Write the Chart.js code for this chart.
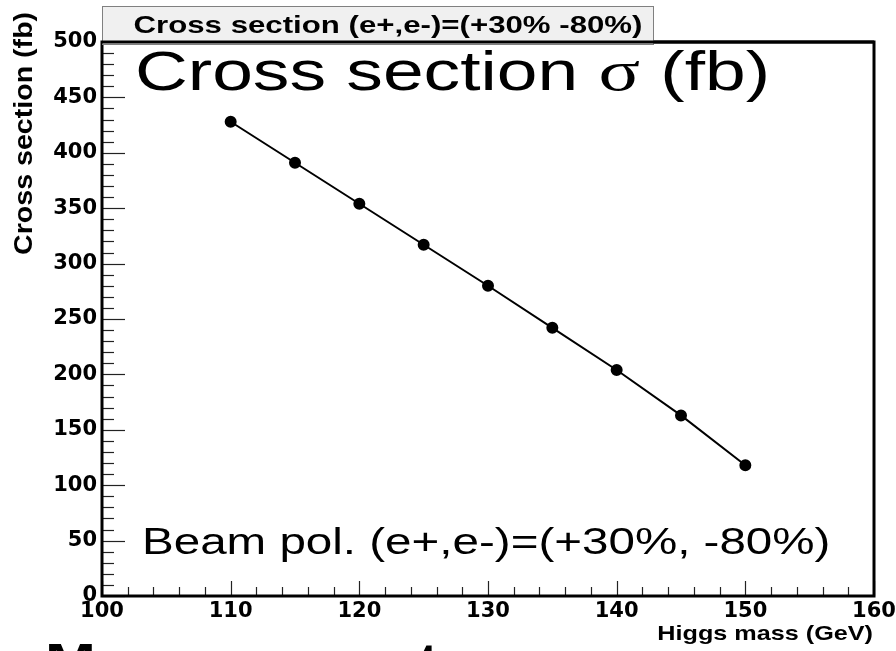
<!DOCTYPE html>
<html>
<head>
<meta charset="utf-8">
<script src="https://cdn.jsdelivr.net/npm/chart.js@4"></script>
<style>
  body { margin: 0; background: #fff; }
  #wrap { width: 896px; height: 651px; }
</style>
</head>
<body>
<div id="wrap"><canvas id="xsec" width="896" height="651"></canvas></div>
<script>
// Higgs mass (GeV) and cross section (fb)
const higgsMass = [110, 115, 120, 125, 130, 135, 140, 145, 150];
const crossSection = [428, 391, 354, 317, 280, 242, 204, 163, 118];
const xTickValues = [100, 110, 120, 130, 140, 150, 160];
const yTickValues = [0, 50, 100, 150, 200, 250, 300, 350, 400, 450, 500];

const boxTitle = "Cross section (e+,e-)=(+30% -80%)";
const yTitle = "Cross section (fb)";
const xTitle = "Higgs mass (GeV)";
const bigLabel = ["Cross section ", "\u03c3", " (fb)"];
const polLabel = "Beam pol. (e+,e-)=(+30%, -80%)";
const footText = "Measurement";

const SANS = "'Liberation Sans', Arial, Helvetica, sans-serif";

// draws text stretched horizontally like the original picture
function wideText(ctx, txt, x, y, font, sx, align) {
  ctx.save();
  ctx.font = font;
  let w = ctx.measureText(txt).width * sx;
  let left = x;
  if (align === "center") left = x - w / 2;
  if (align === "right") left = x - w;
  ctx.translate(left, y);
  ctx.scale(sx, 1);
  ctx.textAlign = "left";
  ctx.textBaseline = "alphabetic";
  ctx.fillText(txt, 0, 0);
  ctx.restore();
  return w;
}

const rootFrame = {
  id: "rootFrame",
  afterDatasetsDraw(chart) {
    const ctx = chart.ctx;
    const a = chart.chartArea;
    const xs = chart.scales.x, ys = chart.scales.y;
    ctx.save();
    ctx.strokeStyle = "#222";
    ctx.lineWidth = 1.2;
    // inward ticks, ROOT style
    for (let v = 0; v <= 500; v += 10) {
      let py = Math.round(ys.getPixelForValue(v)) + 0.5;
      let len = v % 50 === 0 ? 23 : 12;
      ctx.beginPath(); ctx.moveTo(a.left, py); ctx.lineTo(a.left + len, py); ctx.stroke();
    }
    for (let v = 100; v <= 160; v += 2) {
      let px = Math.round(xs.getPixelForValue(v)) + 0.5;
      let len = v % 10 === 0 ? 15 : 9;
      ctx.beginPath(); ctx.moveTo(px, a.bottom); ctx.lineTo(px, a.bottom - len); ctx.stroke();
    }
    // frame
    ctx.strokeStyle = "#000";
    ctx.lineWidth = 3;
    ctx.strokeRect(a.left, a.top, a.right - a.left, a.bottom - a.top);
    ctx.restore();
  },
  afterDraw(chart) {
    const ctx = chart.ctx;
    const a = chart.chartArea;
    ctx.save();
    ctx.fillStyle = "#000";

    // title box
    ctx.fillStyle = "#f0f0f0";
    ctx.fillRect(102, 6, 551, 38);
    ctx.strokeStyle = "#808080";
    ctx.lineWidth = 1;
    ctx.strokeRect(102.5, 6.5, 551, 38);
    ctx.fillStyle = "#000";
    wideText(ctx, boxTitle, 388, 33, "bold 24px " + SANS, 1.3, "center");

    // frame top line over box bottom
    ctx.strokeStyle = "#000";
    ctx.lineWidth = 3;
    ctx.beginPath(); ctx.moveTo(a.left, a.top); ctx.lineTo(a.right, a.top); ctx.stroke();

    // big label inside the frame
    let x = 135;
    x += wideText(ctx, bigLabel[0], x, 90, "55px " + SANS, 1.33, "left");
    x += wideText(ctx, bigLabel[1], x, 90, "58px 'Liberation Serif', serif", 1.33, "left");
    wideText(ctx, bigLabel[2], x, 90, "55px " + SANS, 1.33, "left");

    wideText(ctx, polLabel, 142, 554, "37px " + SANS, 1.285, "left");

    // axis titles
    wideText(ctx, xTitle, 873, 640, "bold 21px " + SANS, 1.2, "right");
    ctx.save();
    ctx.translate(32, 255);
    ctx.rotate(-Math.PI / 2);
    wideText(ctx, yTitle, 0, 0, "bold 26px " + SANS, 1.1, "left");
    ctx.restore();

    // cut text at the bottom edge
    wideText(ctx, footText, 45, 676, "bold 47px " + SANS, 1.3, "left");
    ctx.restore();
  }
};

new Chart(document.getElementById("xsec"), {
  type: "scatter",
  data: {
    datasets: [{
      data: higgsMass.map((m, i) => ({ x: m, y: crossSection[i] })),
      showLine: true,
      borderColor: "#000",
      backgroundColor: "#000",
      borderWidth: 2,
      pointRadius: 5,
      pointHoverRadius: 5,
      tension: 0
    }]
  },
  options: {
    responsive: false,
    animation: false,
    events: [],
    layout: { padding: { top: 42, right: 22, left: 0, bottom: 0 } },
    plugins: { legend: { display: false }, tooltip: { enabled: false }, title: { display: false } },
    scales: {
      x: {
        type: "linear", min: 100, max: 160,
        afterBuildTicks: s => { s.ticks = xTickValues.map(v => ({ value: v })); },
        afterFit: s => { s.height = 55; s.paddingLeft = 0; s.paddingRight = 0; },
        grid: { display: false, drawTicks: false },
        border: { display: false },
        ticks: { color: "#000", padding: 3, maxRotation: 0, autoSkip: false,
          font: { family: "'DejaVu Sans'", weight: "bold", size: 21 } }
      },
      y: {
        type: "linear", min: 0, max: 500,
        afterBuildTicks: s => { s.ticks = yTickValues.map(v => ({ value: v })); },
        afterFit: s => { s.width = 102; s.paddingTop = 0; s.paddingBottom = 0; },
        grid: { display: false, drawTicks: false },
        border: { display: false },
        ticks: { color: "#000", padding: 5, autoSkip: false,
          font: { family: "'DejaVu Sans'", weight: "bold", size: 21 } }
      }
    }
  },
  plugins: [rootFrame]
});
</script>
</body>
</html>
